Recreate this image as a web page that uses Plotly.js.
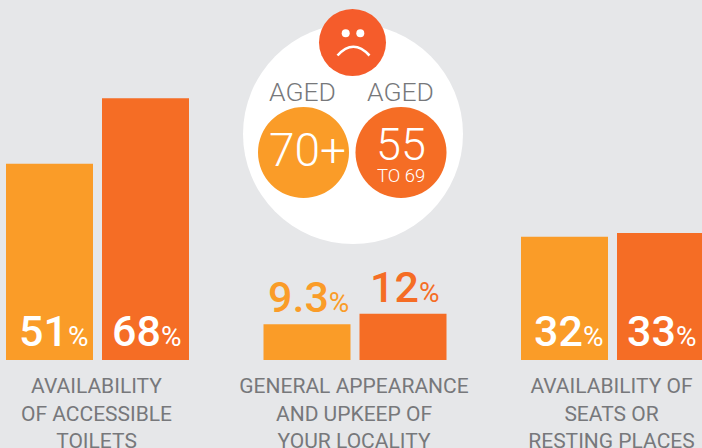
<!DOCTYPE html>
<html><head><meta charset="utf-8">
<script src="https://cdn.plot.ly/plotly-3.0.1.min.js"></script>
<style>html,body{margin:0;padding:0;background:#E6E7E9}#c{width:702px;height:448px}</style>
</head><body><div id="c"></div>
<script>
var categories = ["AVAILABILITY<br>OF ACCESSIBLE<br>TOILETS","GENERAL APPEARANCE<br>AND UPKEEP OF<br>YOUR LOCALITY","AVAILABILITY OF<br>SEATS OR<br>RESTING PLACES"];
var aged70 = [51, 9.3, 32];
var aged55 = [68, 12, 33];
var ORANGE = "#FA9C28", RED = "#F56D25", FACE = "#F55C2B", GREY = "#77787B", BG = "#E6E7E9";
var FONT = "Roboto, sans-serif";

var W = 702, H = 448, BASE = 360, PXU = 3.85, PITCH = 257.5, C0 = 97.5, SLOT = 96;
function px(x){ return x / W; }
function py(y){ return (BASE - y) / BASE; }
function circle(cx, cy, r, color){
  return {type:"circle", xref:"paper", yref:"paper", layer:"below", x0:px(cx-r), x1:px(cx+r), y0:py(cy+r), y1:py(cy-r), fillcolor:color, line:{width:0}};
}
var shapes = [
  circle(353,134,110,"#FFFFFF"),
  circle(352.5,42.5,33.5,FACE),
  circle(345.7,33.3,4,"#FFFFFF"),
  circle(360.3,33.3,4,"#FFFFFF"),
  circle(303.5,152.5,45.5,ORANGE),
  circle(401,152.5,45.5,RED),
  {type:"path", xref:"paper", yref:"paper", layer:"below",
   path:"M "+px(337.5)+" "+py(55.5)+" Q "+px(353.3)+" "+py(38)+" "+px(369.5)+" "+py(55.5),
   line:{color:"#FFFFFF",width:2.6}, fillcolor:"rgba(0,0,0,0)"}
];
function txt(x, y, text, size, color, weight){
  return {xref:"paper", yref:"paper", x:px(x), y:py(y), xanchor:"center", yanchor:"middle", text:text, showarrow:false,
          font:{family:FONT,size:size,color:color,weight:weight||300}, borderpad:0, captureevents:false};
}
var annotations = [
  txt(302.5,91.5,"AGED",26.5,GREY,300),
  txt(400.5,91.5,"AGED",26.5,GREY,300),
  txt(307,150,"70+",46,"#FFFFFF",300),
  txt(400.5,144,"55",45,"#FFFFFF",300),
  txt(400.5,176,"TO 69",18.5,"#FFFFFF",300)
];
function valueLabel(catIndex, v, xshift, color){
  var inside = v >= 20;
  return {xref:"x", yref:"y", x:catIndex, y:inside ? 0 : v, xanchor:"center", yanchor:"bottom", showarrow:false, borderpad:0,
    xshift:xshift - (String(v).length > 2 ? 3 : 0), yshift:inside ? 3 : 1,
    text:v + "<span style='font-size:28px;font-weight:400'>%</span>",
    font:{family:FONT,size:43,color:inside ? "#FFFFFF" : color,weight:500}};
}
categories.forEach(function(c,i){
  annotations.push(valueLabel(i, aged70[i], -44, ORANGE));
  annotations.push(valueLabel(i, aged55[i], 49, RED));
});
var traces = [
  {type:"bar", name:"Aged 70+", x:[0,1,2], y:aged70, marker:{color:ORANGE,line:{width:0}}, hoverinfo:"skip"},
  {type:"bar", name:"Aged 55 to 69", x:[0,1,2], y:aged55, marker:{color:RED,line:{width:0}}, hoverinfo:"skip"}
];
var layout = {
  width:W, height:H, margin:{l:0,r:0,t:0,b:H-BASE,pad:0},
  paper_bgcolor:BG, plot_bgcolor:"rgba(0,0,0,0)", showlegend:false,
  barmode:"group", bargap:1-2*SLOT/PITCH, bargroupgap:9/SLOT,
  xaxis:{range:[-C0/PITCH,(W-C0)/PITCH], tickmode:"array", tickvals:[0,1,2], ticktext:categories,
         showgrid:false, zeroline:false, showline:false, ticks:"outside", ticklen:7, tickcolor:"rgba(0,0,0,0)", tickangle:0,
         ticklabelshift:-1,
         tickfont:{family:FONT,size:21,color:GREY,weight:400}, fixedrange:true},
  yaxis:{range:[0,BASE/PXU], visible:false, fixedrange:true},
  shapes:shapes, annotations:annotations
};
Plotly.newPlot("c", traces, layout, {displayModeBar:false, staticPlot:true});
</script></body></html>
